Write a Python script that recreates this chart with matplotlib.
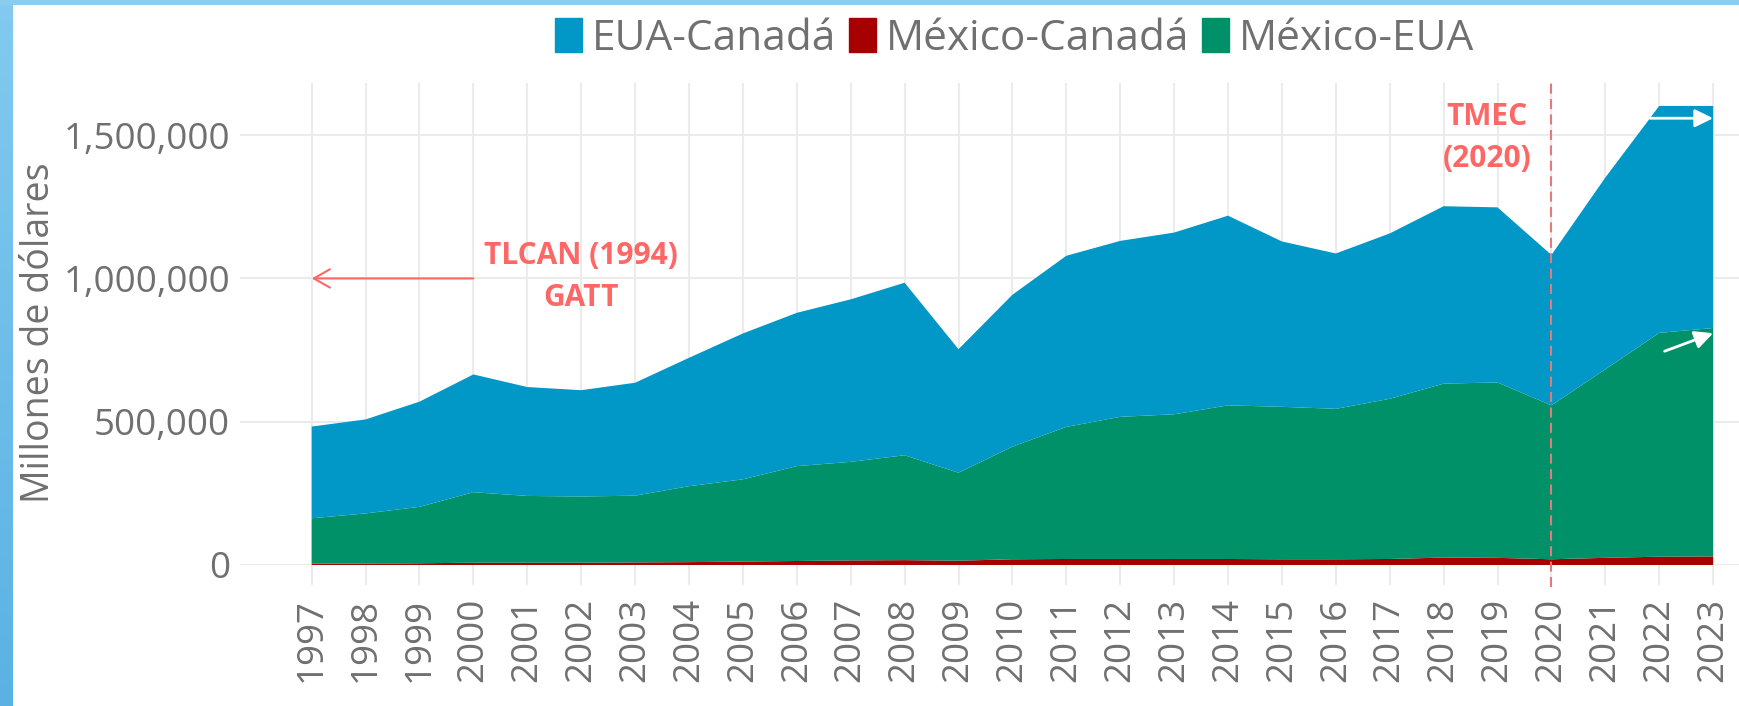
import matplotlib.pyplot as plt
import matplotlib.ticker as mticker
from matplotlib.patches import Patch, Rectangle
from matplotlib.colors import LinearSegmentedColormap
import numpy as np

# comercio entre los tres paises, millones de dolares
years = list(range(1997, 2024))
mx_ca = [5000, 5000, 6000, 8000, 8000, 8000, 9000, 10000, 12000, 14000, 16000, 17000, 15000,
         20000, 21000, 21000, 21000, 21000, 20000, 20000, 21000, 26000, 25000, 20000, 25000, 29000, 30000]
mx_eua = [158000, 175000, 197000, 246000, 233000, 231000, 233000, 265000, 287000, 331000, 344000, 366000, 307000,
          393000, 461000, 496000, 505000, 536000, 532000, 525000, 559000, 607000, 612000, 537000, 658000, 781000, 797000]
eua_ca = [320000, 328000, 367000, 411000, 380000, 371000, 394000, 448000, 509000, 535000, 567000, 602000, 431000,
          530000, 597000, 614000, 634000, 662000, 577000, 542000, 577000, 619000, 611000, 525000, 669000, 792000, 775000]

legend_labels = ['EUA-Canadá', 'México-Canadá', 'México-EUA']
yticks = [0, 500000, 1000000, 1500000]

blue = '#0197c6'
red = '#a60000'
green = '#009169'
note = '#ff6666'
grey = '#707070'

plt.rcParams['font.family'] = ['Open Sans', 'DejaVu Sans']

W, H = 1739, 706
fig = plt.figure(figsize=(W / 100, H / 100), dpi=100)

# marco azul
band = fig.add_axes([0, 0, 12.7 / W, 1])
cmap = LinearSegmentedColormap.from_list('band', ['#82caef', '#5ab2e4'])
band.imshow(np.linspace(0, 1, 100).reshape(-1, 1), aspect='auto', cmap=cmap)
band.axis('off')
fig.add_artist(Rectangle((0, 1 - 4.5 / H), 1, 4.5 / H, transform=fig.transFigure, color='#88ccef', lw=0))

ax = fig.add_axes([240 / W, 1 - 565 / H, 1 - 240 / W, (565 - 82.7) / H])
ax.stackplot(years, mx_ca, mx_eua, eua_ca, colors=[red, green, blue], linewidth=0, zorder=2)
ax.set_xlim(1995.67, 2023.48)
ax.set_ylim(0, 1683000)

ax.set_xticks(years)
ax.set_xticklabels([str(y) for y in years], rotation=90)
ax.set_yticks(yticks)
ax.yaxis.set_major_formatter(mticker.FuncFormatter(lambda v, p: f'{int(v):,}'))
ax.grid(color='#ebebeb', linewidth=1.5, zorder=0)
ax.set_axisbelow(True)
for s in ax.spines.values():
    s.set_visible(False)
ax.tick_params(axis='x', length=14.4, width=1.5, color='#ebebeb', pad=9, labelsize=26.5, labelcolor=grey)
ax.tick_params(axis='y', length=0, pad=7, labelsize=26.5, labelcolor=grey)

fig.text(39 / W, 1 - 333 / H, 'Millones de dólares', rotation=90, ha='center', va='center',
         fontsize=27, color=grey)

# leyenda
handles = [Patch(color=blue), Patch(color=red), Patch(color=green)]
fig.legend(handles, legend_labels, loc='center', bbox_to_anchor=(1015 / W, 1 - 39 / H), ncol=3,
           frameon=False, fontsize=30.5, labelcolor=grey, handlelength=0.62, handleheight=0.85,
           handletextpad=0.25, columnspacing=0.3, borderaxespad=0, borderpad=0)

# anotaciones
ax.annotate('', xy=(1997, 1000000), xytext=(2000, 1000000),
            arrowprops=dict(arrowstyle='->,head_length=0.58,head_width=0.33', color=note, lw=1.5,
                            shrinkA=0, shrinkB=0, mutation_scale=20), zorder=5)
ax.text(2002, 1005000, 'TLCAN (1994)\nGATT', ha='center', va='center', fontsize=21.5,
        fontweight='bold', color=note, linespacing=1.5, zorder=5)

ax.axvline(2020, ymin=-22 / 482, ymax=1, color='#e47a7a', lw=1.5, ls=(0, (4.8, 2.6)), clip_on=False, zorder=4)
ax.text(2018.8, 1490000, 'TMEC\n(2020)', ha='center', va='center', fontsize=21.5,
        fontweight='bold', color=note, linespacing=1.5, zorder=5)

ax.annotate('', xy=(2023, 1559000), xytext=(2021.83, 1559000),
            arrowprops=dict(arrowstyle='-|>,head_length=0.55,head_width=0.27', color='white', lw=2,
                            shrinkA=0, shrinkB=0, mutation_scale=20), zorder=5)
ax.annotate('', xy=(2023, 809000), xytext=(2022.1, 746000),
            arrowprops=dict(arrowstyle='-|>,head_length=0.55,head_width=0.27', color='white', lw=2,
                            shrinkA=0, shrinkB=0, mutation_scale=20), zorder=5)

fig.savefig('out.png', dpi=100)
